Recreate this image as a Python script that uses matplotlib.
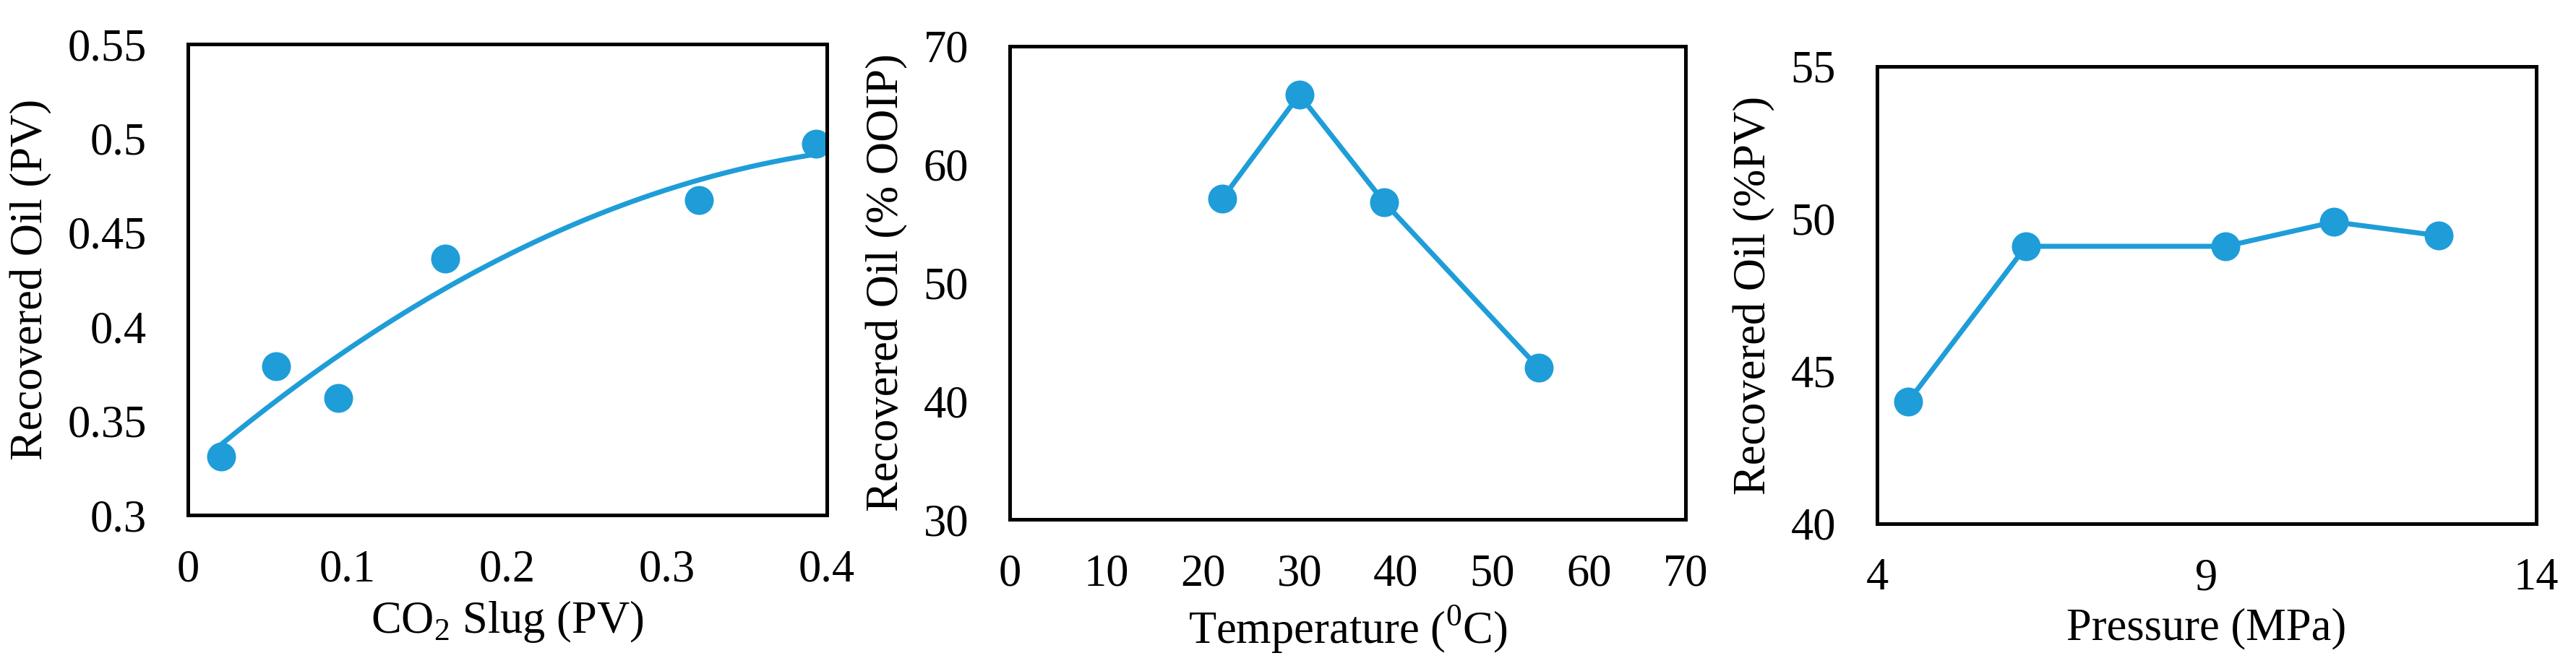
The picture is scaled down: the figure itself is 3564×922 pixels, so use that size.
import numpy as np
import matplotlib
matplotlib.use("Agg")
import matplotlib.pyplot as plt

plt.rcParams['font.family'] = ['Liberation Serif', 'DejaVu Serif']
plt.rcParams['mathtext.fontset'] = 'custom'
plt.rcParams['mathtext.rm'] = 'Liberation Serif'

# data
slug_pv = [0.021, 0.055, 0.094, 0.161, 0.320, 0.393]
slug_oil = [0.331, 0.379, 0.362, 0.436, 0.467, 0.497]

temp_c = [22, 30, 38.8, 54.8]
temp_oil = [57.1, 65.9, 56.8, 42.8]

press_mpa = [4.47, 6.26, 9.29, 10.93, 12.52]
press_oil = [44.0, 49.1, 49.1, 49.9, 49.45]

blue = '#1E9DD8'
fs = 45

fig = plt.figure(figsize=(35.64, 9.22), dpi=100)
W, H = 3564, 922


def make_ax(left, top, right, bottom):
    ax = fig.add_axes([left / W, 1 - bottom / H, (right - left) / W, (bottom - top) / H])
    for sp in ax.spines.values():
        sp.set_linewidth(3.6)
        sp.set_color('black')
    ax.tick_params(length=0, labelsize=fs)
    ax.tick_params(axis='x', pad=34)
    ax.tick_params(axis='y', pad=41)
    return ax


# panel 1: CO2 slug with 2nd order trend line
ax1 = make_ax(260, 61, 1144, 713)
ax1.plot(slug_pv, slug_oil, 'o', color=blue, markersize=28.8, markeredgewidth=0)
coef = np.polyfit(slug_pv, slug_oil, 2)
xs = np.linspace(min(slug_pv), max(slug_pv), 200)
ax1.plot(xs, np.polyval(coef, xs), color=blue, linewidth=5)
ax1.set_xlim(0, 0.4)
ax1.set_ylim(0.3, 0.55)
ax1.set_xticks([0, 0.1, 0.2, 0.3, 0.4])
ax1.set_xticklabels(['0', '0.1', '0.2', '0.3', '0.4'])
ax1.set_yticks([0.3, 0.35, 0.4, 0.45, 0.5, 0.55])
ax1.set_yticklabels(['0.3', '0.35', '0.4', '0.45', '0.5', '0.55'])
ax1.set_xlabel(r'CO$_\mathrm{2}$ Slug (PV)', fontsize=fs, labelpad=8)
ax1.set_ylabel('Recovered Oil (PV)', fontsize=fs, labelpad=15)

# panel 2: temperature
ax2 = make_ax(1397, 64, 2332, 719)
ax2.plot(temp_c, temp_oil, '-o', color=blue, markersize=28.8, markeredgewidth=0, linewidth=5)
ax2.set_xlim(0, 70)
ax2.set_ylim(30, 70)
ax2.set_xticks(range(0, 71, 10))
ax2.set_yticks(range(30, 71, 10))
ax2.set_xlabel(r'Temperature ($^\mathrm{0}$C)', fontsize=fs, labelpad=8)
ax2.set_ylabel('Recovered Oil (% OOIP)', fontsize=fs, labelpad=15)

# panel 3: pressure
ax3 = make_ax(2597, 92, 3509, 725)
ax3.plot(press_mpa, press_oil, '-o', color=blue, markersize=28.8, markeredgewidth=0, linewidth=5)
ax3.set_xlim(4, 14)
ax3.set_ylim(40, 55)
ax3.set_xticks([4, 9, 14])
ax3.set_yticks([40, 45, 50, 55])
ax3.set_xlabel('Pressure (MPa)', fontsize=fs, labelpad=8)
ax3.set_ylabel('Recovered Oil (%PV)', fontsize=fs, labelpad=15)

fig.savefig('out.png', dpi=100)
